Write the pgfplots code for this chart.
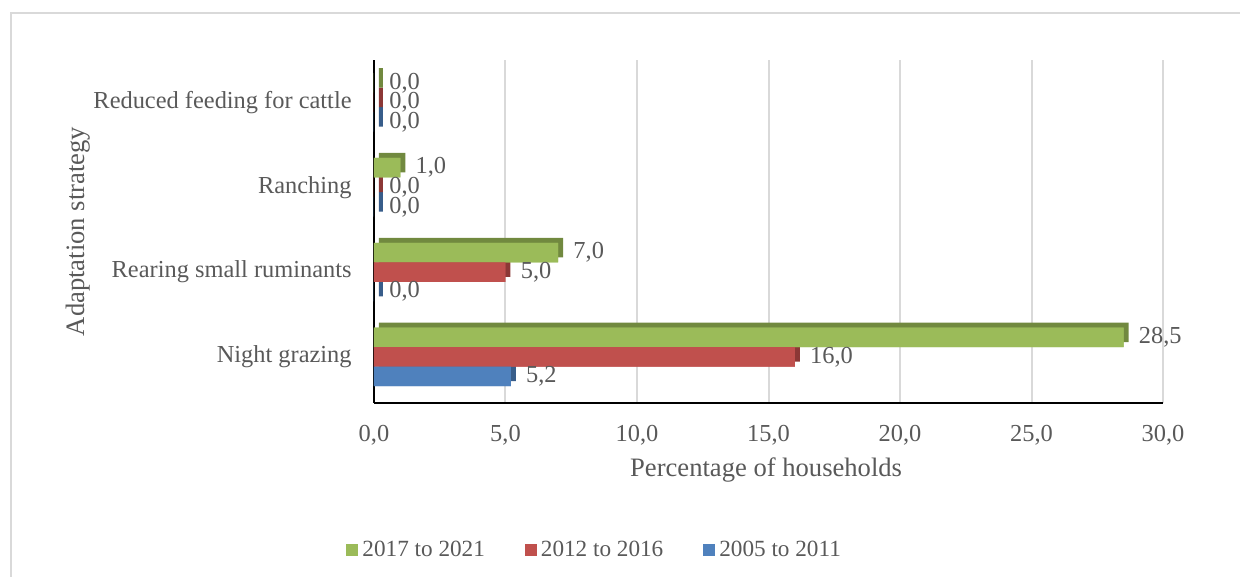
\documentclass[border=0pt]{standalone}
\usepackage{fontspec}
\setmainfont{Liberation Serif}
\usepackage{pgfplots}
\pgfplotsset{compat=1.18}
\definecolor{cg}{HTML}{9BBB59}
\definecolor{cgd}{HTML}{71893F}
\definecolor{cr}{HTML}{C0504D}
\definecolor{crd}{HTML}{8C3836}
\definecolor{cb}{HTML}{4F81BD}
\definecolor{cbd}{HTML}{385D8A}
\definecolor{txt}{HTML}{595959}
\definecolor{gridc}{HTML}{D9D9D9}
\begin{document}
\begin{tikzpicture}
\path[use as bounding box] (-187pt,-87pt) rectangle (433pt,201.5pt);
\draw[gridc, line width=1pt] (-181.5pt,-88pt) -- (-181.5pt,195pt) -- (434pt,195pt);
\begin{axis}[
  at={(0,0)}, anchor=south west,
  scale only axis,
  width=394.5pt, height=171.5pt,
  xmin=0, xmax=30,
  ymin=-0.543, ymax=3.5,
  xbar, bar width=0.23,
  axis x line*=bottom, axis y line*=left,
  axis line style={-, black, line width=1pt},
  xtick={0,5,...,30},
  ytick={0,1,2,3},
  yticklabels={Night grazing, Rearing small ruminants, Ranching, Reduced feeding for cattle},
  major tick length=0pt,
  xmajorgrids, grid style={gridc, line width=1pt},
  /pgf/number format/assume math mode=true,
  xticklabel style={/pgf/number format/.cd, fixed, fixed zerofill, precision=1, use comma, /tikz/.cd},
  tick label style={font=\fontsize{12.2}{14}\selectfont, text=txt},
  xticklabel style={anchor=center, yshift=-16pt},
  yticklabel style={anchor=east, inner sep=0pt, xshift=-11pt},
  xlabel={Percentage of households},
  ylabel={Adaptation strategy},
  label style={font=\fontsize{13.3}{15}\selectfont, text=txt},
  xlabel style={at={(axis description cs:0.497,0)}, anchor=center, yshift=-33.5pt},
  ylabel style={at={(axis description cs:-0.375,0.5)}, anchor=center, rotate=0},
  nodes near coords,
  nodes near coords style={font=\fontsize{12.2}{14}\selectfont, text=txt, anchor=west, inner sep=0pt, xshift=7.5pt,
    /pgf/number format/.cd, fixed, fixed zerofill, precision=1, use comma, assume math mode=true},
  legend style={draw=none, fill=none, at={(axis description cs:0.281,-0.43)}, anchor=center,
    font=\fontsize{11.6}{13}\selectfont, text=txt, legend columns=3,
    /tikz/every even column/.append style={column sep=18pt}},
  legend image code/.code={\fill[#1] (0pt,-3pt) rectangle (6pt,3pt);},
]
% back faces (3D effect)
\addplot[forget plot, fill=cbd, draw=none, bar shift=-0.23, xshift=2.5pt, yshift=2.5pt, nodes near coords=\empty]
  coordinates {(5.2,0) (0.15,1) (0.15,2) (0.15,3)};
\addplot[forget plot, fill=cb, draw=none, bar shift=-0.23, nodes near coords=\empty]
  coordinates {(5.2,0) (0,1) (0,2) (0,3)};
\addplot[forget plot, fill=crd, draw=none, bar shift=0, xshift=2.5pt, yshift=2.5pt, nodes near coords=\empty]
  coordinates {(16.0,0) (5.0,1) (0.15,2) (0.15,3)};
\addplot[forget plot, fill=cr, draw=none, bar shift=0, nodes near coords=\empty]
  coordinates {(16.0,0) (5.0,1) (0,2) (0,3)};
\addplot[forget plot, fill=cgd, draw=none, bar shift=0.23, xshift=2.5pt, yshift=2.5pt, nodes near coords=\empty]
  coordinates {(28.5,0) (7.0,1) (1.0,2) (0.15,3)};
\addplot[forget plot, fill=cg, draw=none, bar shift=0.23, nodes near coords=\empty]
  coordinates {(28.5,0) (7.0,1) (1.0,2) (0,3)};
% front faces with labels (legend order)
\addplot[fill=cg, draw=none, bar shift=0.23] coordinates {(28.5,0) (7.0,1) (1.0,2) (0,3)};
\addlegendentry{2017 to 2021}
\addplot[fill=cr, draw=none, bar shift=0] coordinates {(16.0,0) (5.0,1) (0,2) (0,3)};
\addlegendentry{2012 to 2016}
\addplot[fill=cb, draw=none, bar shift=-0.23] coordinates {(5.2,0) (0,1) (0,2) (0,3)};
\addlegendentry{2005 to 2011}
\end{axis}
\end{tikzpicture}
\end{document}
